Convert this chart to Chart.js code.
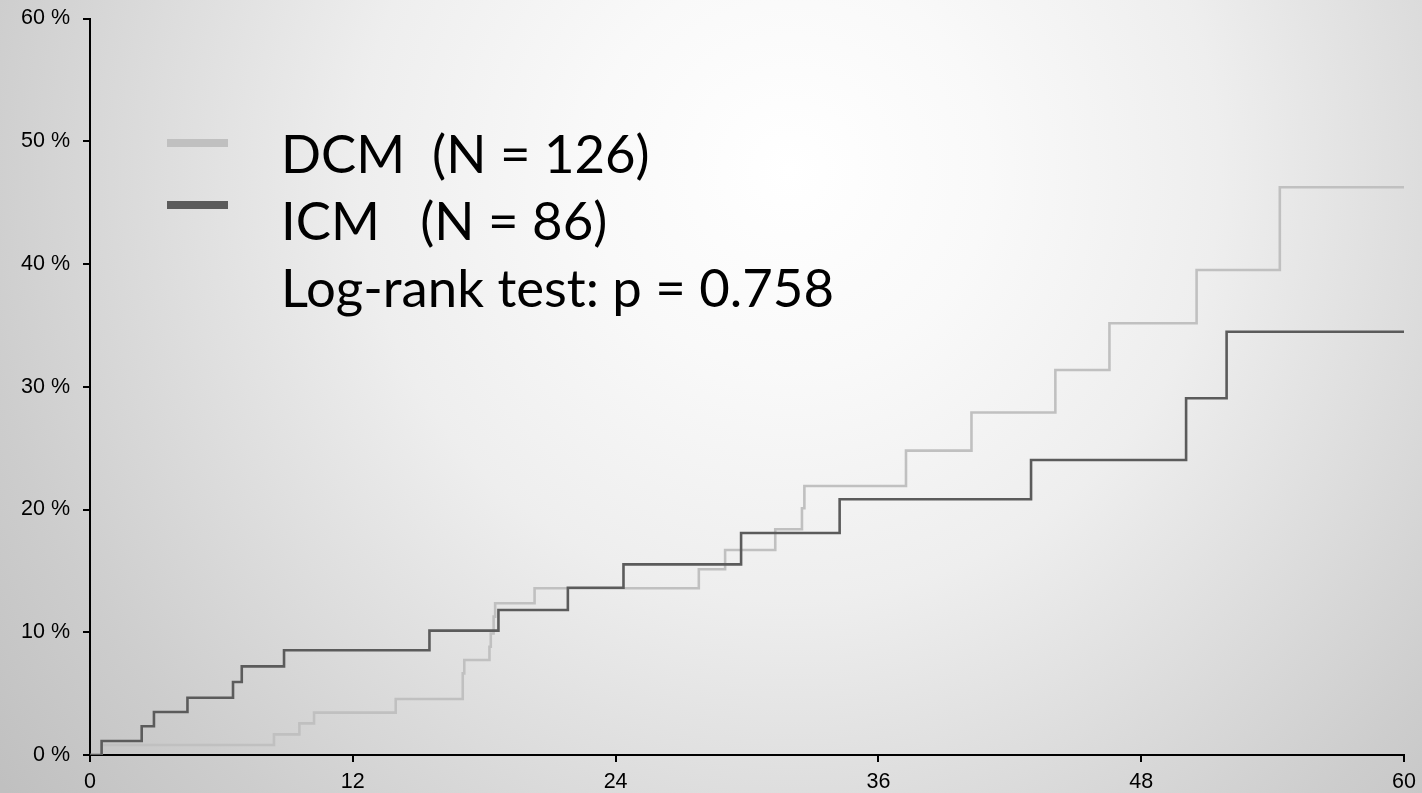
<!DOCTYPE html>
<html>
<head>
<meta charset="utf-8">
<script src="https://cdn.jsdelivr.net/npm/chart.js@4.4.1/dist/chart.umd.min.js"></script>
<style>
html, body { margin: 0; padding: 0; width: 1422px; height: 793px; overflow: hidden; }
body {
  background: radial-gradient(circle at 790px 170px, #ffffff 0px, #f9f9f9 200px, #eeeeee 430px, #dedede 620px, #cdcdcd 820px, #c0c0c0 1000px);
}
#wrap { position: relative; width: 1422px; height: 793px; }
canvas { display: block; }
</style>
</head>
<body>
<div id="wrap"><canvas id="chart" width="1422" height="793"></canvas></div>
<script>
// ---- Data (months, cumulative incidence %) ----
const dcmTimes  = [0, 0.53, 8.4, 9.56, 10.23, 13.96, 17.02, 17.09, 18.24, 18.3, 18.43, 18.5, 20.3, 27.8, 29.0, 31.29, 32.51, 32.62, 37.26, 40.25, 44.08, 46.55, 50.53, 54.33, 60];
const dcmValues = [0, 0.81, 1.68, 2.58, 3.45, 4.56, 6.65, 7.74, 8.82, 9.9, 11.27, 12.36, 13.58, 15.13, 16.7, 18.39, 20.1, 21.91, 24.8, 27.9, 31.36, 35.17, 39.51, 46.25, 46.25];

const icmTimes  = [0, 0.53, 2.36, 2.92, 4.45, 6.53, 6.93, 8.86, 15.5, 18.65, 21.82, 24.36, 29.73, 34.23, 42.97, 50.05, 51.9, 60];
const icmValues = [0, 1.14, 2.34, 3.5, 4.67, 5.95, 7.22, 8.53, 10.13, 11.81, 13.63, 15.53, 18.09, 20.83, 24.03, 29.06, 34.48, 34.48];

const xTicks = [0, 12, 24, 36, 48, 60];
const yTicks = [0, 10, 20, 30, 40, 50, 60];

const legendLabels = ['DCM  (N = 126)', 'ICM   (N = 86)', 'Log-rank test: p = 0.758'];

const DCM_COLOR = '#c0c0c0';
const ICM_COLOR = '#5b5b5b';

function toPoints(ts, vs) { return ts.map((t, i) => ({ x: t, y: vs[i] })); }

const legendPlugin = {
  id: 'kmLegend',
  afterDraw(chart) {
    const ctx = chart.ctx;
    ctx.save();
    // swatches
    ctx.fillStyle = DCM_COLOR;
    ctx.fillRect(167, 139, 61, 8);
    ctx.fillStyle = ICM_COLOR;
    ctx.fillRect(167, 201, 61, 8);
    // fit font size to the reference text width
    ctx.font = '100px Lato';
    const w100 = ctx.measureText(legendLabels[2]).width;
    const size = 100 * 553 / w100;
    ctx.font = size.toFixed(2) + 'px Lato';
    ctx.fillStyle = '#000000';
    ctx.textAlign = 'left';
    ctx.textBaseline = 'alphabetic';
    const baselines = [173, 240, 307];
    legendLabels.forEach((t, i) => ctx.fillText(t, 281, baselines[i]));
    ctx.restore();
  }
};

new Chart(document.getElementById('chart'), {
  type: 'line',
  data: {
    datasets: [
      {
        label: legendLabels[1],
        data: toPoints(icmTimes, icmValues),
        stepped: 'before',
        borderColor: ICM_COLOR,
        borderWidth: 2.6,
        pointRadius: 0,
        fill: false,
        order: 0
      },
      {
        label: legendLabels[0],
        data: toPoints(dcmTimes, dcmValues),
        stepped: 'before',
        borderColor: DCM_COLOR,
        borderWidth: 2.6,
        pointRadius: 0,
        fill: false,
        order: 1
      }
    ]
  },
  options: {
    responsive: false,
    animation: false,
    devicePixelRatio: 1,
    layout: { padding: { left: 0, right: 18, top: 18.5, bottom: 0 } },
    plugins: { legend: { display: false }, tooltip: { enabled: false } },
    scales: {
      x: {
        type: 'linear',
        min: 0, max: 60,
        afterBuildTicks: s => { s.ticks = xTicks.map(v => ({ value: v })); },
        afterFit: s => { s.height = 38; s.paddingLeft = 0; s.paddingRight = 0; },
        ticks: {
          color: '#000000',
          font: { family: 'Liberation Sans, Arial, sans-serif', size: 21.5 },
          padding: 7,
          maxRotation: 0
        },
        grid: { display: true, drawOnChartArea: false, drawTicks: true, tickLength: 7, color: '#000000', lineWidth: 2 },
        border: { display: true, color: '#000000', width: 2 }
      },
      y: {
        type: 'linear',
        min: 0, max: 60,
        afterBuildTicks: s => { s.ticks = yTicks.map(v => ({ value: v })); },
        afterFit: s => { s.width = 90; s.paddingTop = 0; s.paddingBottom = 0; },
        ticks: {
          color: '#000000',
          font: { family: 'Liberation Sans, Arial, sans-serif', size: 21.5 },
          padding: 13,
          callback: v => v + ' %'
        },
        grid: { display: true, drawOnChartArea: false, drawTicks: true, tickLength: 7, color: '#000000', lineWidth: 2 },
        border: { display: true, color: '#000000', width: 2 }
      }
    }
  },
  plugins: [legendPlugin]
});
</script>
</body>
</html>
